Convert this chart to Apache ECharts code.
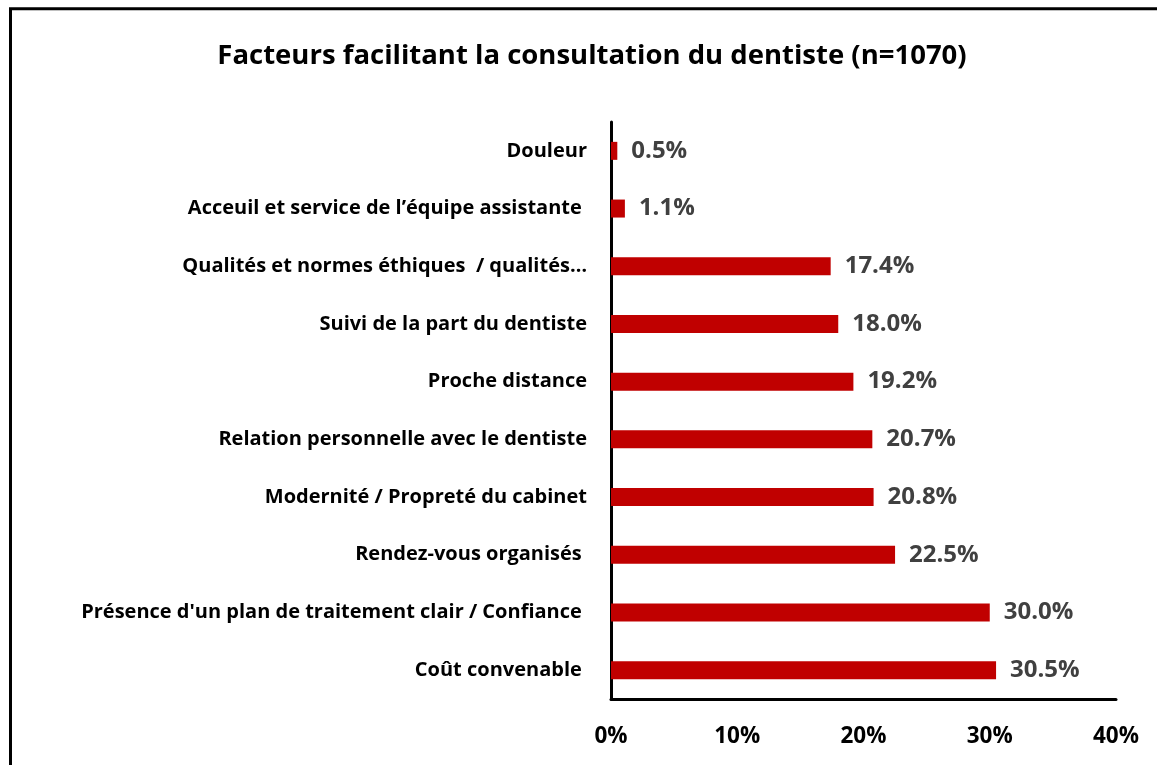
<!DOCTYPE html>
<html>
<head>
<meta charset="utf-8">
<script src="https://cdn.jsdelivr.net/npm/echarts@6/dist/echarts.min.js"></script>
<style>
html,body{margin:0;padding:0;background:#fff;}
#chart{width:1157px;height:765px;}
</style>
</head>
<body>
<div id="chart"></div>
<script>
var titleText = "Facteurs facilitant la consultation du dentiste (n=1070)";
var categories = [
  "Douleur",
  "Acceuil et service de l\u2019équipe assistante ",
  "Qualités et normes éthiques  / qualités\u2026",
  "Suivi de la part du dentiste",
  "Proche distance",
  "Relation personnelle avec le dentiste",
  "Modernité / Propreté du cabinet",
  "Rendez-vous organisés ",
  "Présence d'un plan de traitement clair / Confiance ",
  "Coût convenable "
];
var values = [0.5, 1.1, 17.4, 18.0, 19.2, 20.7, 20.8, 22.5, 30.0, 30.5];
var xTicks = [0, 10, 20, 30, 40];

var FONT = '"Open Sans", sans-serif';
var chart = echarts.init(document.getElementById('chart'));
chart.setOption({
  backgroundColor: '#ffffff',
  animation: false,
  title: {
    text: titleText,
    left: 587,
    textAlign: 'center',
    top: 37,
    textStyle: {fontFamily: FONT, fontWeight: 'bold', fontSize: 27.5, color: '#000'}
  },
  graphic: [{
    type: 'polyline',
    shape: {points: [[10.5, 765], [10.5, 8.8], [1157, 8.8]]},
    style: {stroke: '#000', lineWidth: 3, fill: null}
  }],
  grid: {left: 611, right: 41, top: 122, bottom: 66, containLabel: false},
  xAxis: {
    type: 'value',
    min: xTicks[0],
    max: xTicks[xTicks.length - 1],
    interval: 10,
    axisLine: {show: true, lineStyle: {color: '#000', width: 3}},
    axisTick: {show: false},
    splitLine: {show: false},
    axisLabel: {
      margin: 26,
      color: '#000',
      fontFamily: FONT,
      fontWeight: 'bold',
      fontSize: 22.5,
      formatter: function (v) { return v + '%'; }
    }
  },
  yAxis: {
    type: 'category',
    inverse: true,
    data: categories,
    axisLine: {show: true, lineStyle: {color: '#000', width: 3}},
    axisTick: {show: false},
    axisLabel: {
      margin: 24,
      color: '#000',
      fontFamily: FONT,
      fontWeight: 'bold',
      fontSize: 20
    }
  },
  series: [{
    type: 'bar',
    data: values,
    barWidth: 18,
    itemStyle: {color: '#C00000'},
    label: {
      show: true,
      position: 'right',
      distance: 14,
      color: '#404040',
      fontFamily: FONT,
      fontWeight: 'bold',
      fontSize: 24,
      formatter: function (p) { return p.value.toFixed(1) + '%'; }
    }
  }]
});
</script>
</body>
</html>
